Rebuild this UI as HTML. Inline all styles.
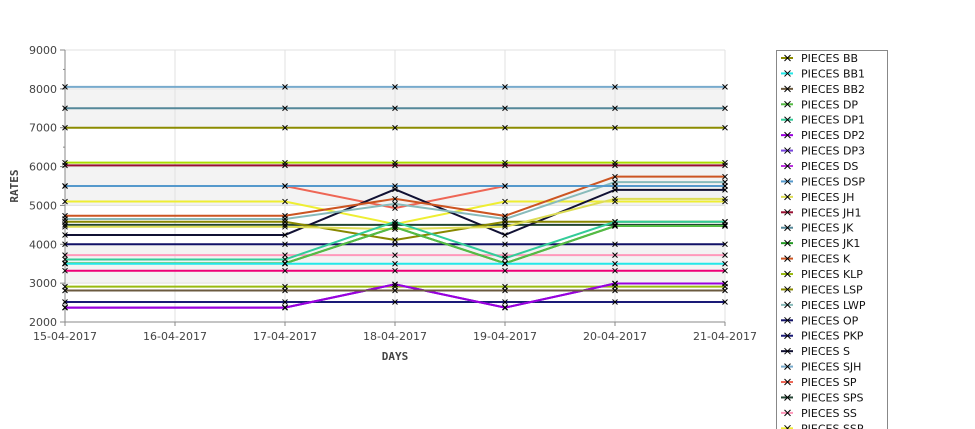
<!DOCTYPE html>
<html><head><meta charset="utf-8"><style>
html,body{margin:0;padding:0;background:#fff;width:975px;height:429px;overflow:hidden;font-family:"DejaVu Sans","Liberation Sans",sans-serif}
svg{display:block}
</style></head><body>
<svg id="chart" width="975" height="429" xmlns="http://www.w3.org/2000/svg"></svg>
<script>
const dates=["15-04-2017","16-04-2017","17-04-2017","18-04-2017","19-04-2017","20-04-2017","21-04-2017"];
const pointDays=[0,2,3,4,5,6];
const yTicks=[2000,3000,4000,5000,6000,7000,8000,9000];
const seriesNames=["PIECES BB","PIECES BB1","PIECES BB2","PIECES DP","PIECES DP1","PIECES DP2","PIECES DP3","PIECES DS","PIECES DSP","PIECES JH","PIECES JH1","PIECES JK","PIECES JK1","PIECES K","PIECES KLP","PIECES LSP","PIECES LWP","PIECES OP","PIECES PKP","PIECES S","PIECES SJH","PIECES SP","PIECES SPS","PIECES SS","PIECES SSP","PIECES SW","PIECES T"];
const seriesColors=["#8b8b00","#22e8e8","#6b5a3f","#55bb44","#33cc99","#9900dd","#7744dd","#bb33dd","#5599cc","#dddd55","#991133","#558899","#229922","#cc5522","#99bb11","#888800","#88bbbb","#111166","#1a1a77","#111133","#77aacc","#ee6655","#224433","#ff99bb","#eeee33","#aadd00","#ee0077"];
const v_BB=[7000,7000,7000,7000,7000,7000];
const v_BB1=[3500,3500,3500,3500,3500,3500];
const v_BB2=[2810,2810,2810,2810,2810,2810];
const v_DP=[3510,3510,4440,3510,4470,4470];
const v_DP1=[3610,3610,4580,3640,4580,4580];
const v_DP2=[2370,2370,2970,2370,2990,2990];
const v_DP3=[2370,2370,2970,2370,2990,2990];
const v_DS=[2370,2370,2970,2370,2990,2990];
const v_DSP=[5500,5500,5500,5500,5500,5500];
const v_JH=[4450,4450,4390,4450,5170,5170];
const v_JH1=[6030,6030,6030,6030,6030,6030];
const v_JK=[7500,7500,7500,7500,7500,7500];
const v_JK1=[3510,3510,4440,3510,4470,4470];
const v_K=[4735,4735,5170,4730,5740,5740];
const v_KLP=[2910,2910,2910,2910,2910,2910];
const v_LSP=[4580,4580,4110,4580,4580,4580];
const v_LWP=[4650,4650,5040,4650,5600,5600];
const v_OP=[4000,4000,4000,4000,4000,4000];
const v_PKP=[2515,2515,2515,2515,2515,2515];
const v_S=[4240,4240,5415,4240,5400,5400];
const v_SJH=[8050,8050,8050,8050,8050,8050];
const v_SP=[5500,5500,4930,5500,5500,5500];
const v_SPS=[4500,4500,4500,4500,4500,4500];
const v_SS=[3720,3720,3720,3720,3720,3720];
const v_SSP=[5100,5100,4520,5100,5100,5100];
const v_SW=[6100,6100,6100,6100,6100,6100];
const v_T=[3320,3320,3320,3320,3320,3320];
const seriesValues=[v_BB,v_BB1,v_BB2,v_DP,v_DP1,v_DP2,v_DP3,v_DS,v_DSP,v_JH,v_JH1,v_JK,v_JK1,v_K,v_KLP,v_LSP,v_LWP,v_OP,v_PKP,v_S,v_SJH,v_SP,v_SPS,v_SS,v_SSP,v_SW,v_T];

const NS="http://www.w3.org/2000/svg";
const svg=document.getElementById('chart');
const X0=65,X1=725,Y0=322,Y1=50,YMIN=2000,YMAX=9000;
function xs(d){return X0+d*(X1-X0)/6;}
function ys(v){return Y0-(v-YMIN)*(Y0-Y1)/(YMAX-YMIN);}
function mk(tag,attrs,parent){const e=document.createElementNS(NS,tag);for(const k in attrs)e.setAttribute(k,attrs[k]);(parent||svg).appendChild(e);return e;}

const grid=mk('g',{});


for(let i=0;i<yTicks.length-1;i++){
  if(i%2===1){const b=mk('rect',{x:X0,y:ys(yTicks[i+1]),width:X1-X0,height:ys(yTicks[i])-ys(yTicks[i+1]),fill:'#f3f3f3'},grid);
  
  }
}
yTicks.forEach(t=>{mk('line',{x1:X0,x2:X1,y1:ys(t),y2:ys(t),stroke:'#e0e0e0','stroke-width':1},grid);});
dates.forEach((d,i)=>{mk('line',{x1:xs(i),x2:xs(i),y1:Y1,y2:Y0,stroke:'#e0e0e0','stroke-width':1},grid);});

const yaxis=mk('g',{});


mk('line',{x1:X0,x2:X0,y1:Y1,y2:Y0,stroke:'#888'},yaxis);
yTicks.forEach((t,i)=>{
  mk('line',{x1:X0-5,x2:X0,y1:ys(t),y2:ys(t),stroke:'#888'},yaxis);
  if(i<yTicks.length-1) mk('line',{x1:X0-2,x2:X0,y1:ys(t+500),y2:ys(t+500),stroke:'#888'},yaxis);
  const tx=mk('text',{x:X0-8,y:ys(t)+4,'text-anchor':'end','font-size':11,fill:'#444'},yaxis);tx.textContent=t;
  
  
});
const yt=mk('text',{x:18,y:186,'text-anchor':'middle','font-size':11,'font-weight':'bold','font-family':'DejaVu Sans Mono, Liberation Mono, monospace',fill:'#444',transform:'rotate(-90 18 186)'});yt.textContent='RATES';



const xaxis=mk('g',{});


mk('line',{x1:X0,x2:X1,y1:Y0,y2:Y0,stroke:'#888'},xaxis);
dates.forEach((d,i)=>{
  mk('line',{x1:xs(i),x2:xs(i),y1:Y0,y2:Y0+4,stroke:'#888'},xaxis);
  const tx=mk('text',{x:xs(i),y:Y0+18,'text-anchor':'middle','font-size':11,fill:'#444'},xaxis);tx.textContent=d;
  
  
});
const xt=mk('text',{x:395,y:360,'text-anchor':'middle','font-size':11,'font-weight':'bold','font-family':'DejaVu Sans Mono, Liberation Mono, monospace',fill:'#444'});xt.textContent='DAYS';



const plot=mk('g',{});


for(let s=seriesValues.length-1;s>=0;s--){
  const vals=seriesValues[s];
  const pts=vals.map((v,i)=>xs(pointDays[i])+','+ys(v)).join(' ');
  const pl=mk('polyline',{points:pts,fill:'none',stroke:seriesColors[s],'stroke-width':2},plot);
  
  
}
const marks=mk('g',{stroke:'#000','stroke-width':1});


seriesValues.forEach(vals=>vals.forEach((v,i)=>{
  const x=xs(pointDays[i]),y=ys(v);
  mk('path',{d:`M${x-2.5},${y-2.5}L${x+2.5},${y+2.5}M${x-2.5},${y+2.5}L${x+2.5},${y-2.5}`},marks);
}));

const lg=mk('g',{});


mk('rect',{x:776.5,y:50.5,width:111,height:385,fill:'#fff',stroke:'#888'},lg);
seriesNames.forEach((n,i)=>{
  const y=58+i*15.43;
  if(y>436) return;
  const it=mk('g',{},lg);
  
  
  mk('line',{x1:781,x2:793,y1:y,y2:y,stroke:seriesColors[i],'stroke-width':2},it);
  mk('path',{d:`M${784.5},${y-3}L${790.5},${y+3}M${784.5},${y+3}L${790.5},${y-3}`,stroke:'#000','stroke-width':1},it);
  const t=mk('text',{x:801,y:y+4,'font-size':11,fill:'#111'},it);t.textContent=n;
});
</script>
</body></html>
